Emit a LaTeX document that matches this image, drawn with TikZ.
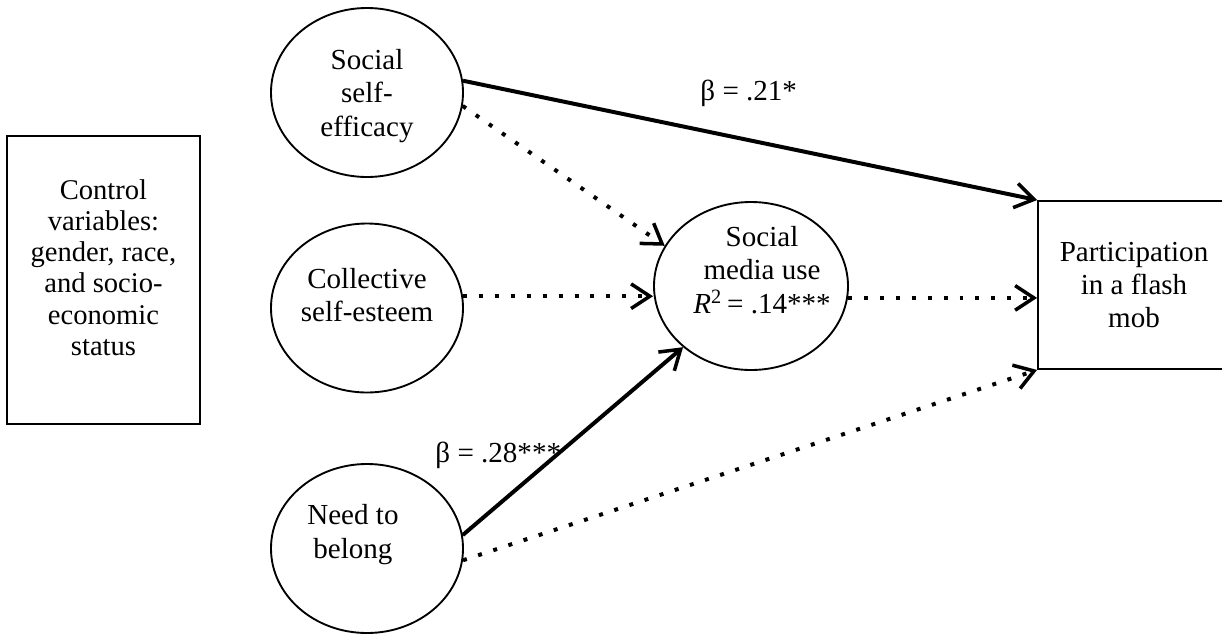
\documentclass[tikz,border=0pt]{standalone}
\usepackage{fontspec}
\setmainfont{Liberation Serif}
\usetikzlibrary{shapes.geometric,arrows.meta}

\begin{document}
\begin{tikzpicture}[x=0.015cm,y=-0.015cm,
every node/.style={font=\fontsize{12.4}{14.2}\selectfont},
latent/.style={ellipse,draw,line width=0.8pt,inner sep=0pt,minimum width=2.88cm,minimum height=2.535cm},
obs/.style={rectangle,draw,line width=0.8pt,inner sep=0pt},
txt/.style={align=center,inner sep=0pt},
coef/.style={anchor=west,inner sep=0pt},
sig/.style={line width=1.7pt,-{Straight Barb[length=8pt,width=10.5pt,line width=1.5pt]}},
ns/.style={line width=1.7pt,dash pattern=on 1.7pt off 5.1pt,-{Straight Barb[length=8pt,width=10.5pt,line width=1.5pt]}}]
\useasboundingbox (0,0) rectangle (1222,633);
\clip (0,0) rectangle (1222,633);
\node [obs,minimum width=2.895cm,minimum height=4.32cm,
label={[txt,yshift=5.3pt,font=\fontsize{12.2}{13.3}\selectfont]center:Control\\variables:\\gender, race,\\and socio-\\economic\\status}] (ctrl) at (103.5,280) {};
\node [latent,label={[txt,yshift=-1.5pt]center:Social\\self-\\efficacy}] (sse) at (367,92.5) {};
\node [latent,label={[txt,yshift=5.5pt]center:Collective\\self-esteem}] (cse) at (367,308) {};
\node [latent,label={[txt,xshift=-6pt,yshift=6pt]center:Need to\\belong}] (ntb) at (367,548.5) {};
\node [latent,minimum width=2.91cm,minimum height=2.52cm,
label={[txt,xshift=4.7pt,yshift=6.8pt]center:Social\\media use\\\textit{R}\textsuperscript{2}\,= .14***}] (smu) at (751,286) {};
\node [obs,minimum width=2.88cm,minimum height=2.52cm,
label={[txt]center:Participation\\in a flash\\mob}] (pfm) at (1134,285) {};
\node [coef] (b1) at (700,93) {β = .21*};
\node [coef] (b2) at (435,455) {β = .28***};
\draw [sig] (sse.7) -- (pfm.north west);
\draw [ns] (sse.-8) -- (smu.155);
\draw [ns] (cse.7) -- (cse.7 -| smu.west);
\draw [ns] (smu.-7) -- (smu.-7 -| pfm.west);
\draw [sig] (ntb.8) -- (smu.222);
\draw [ns] (ntb.-7) -- (pfm.south west);
\end{tikzpicture}
\end{document}
